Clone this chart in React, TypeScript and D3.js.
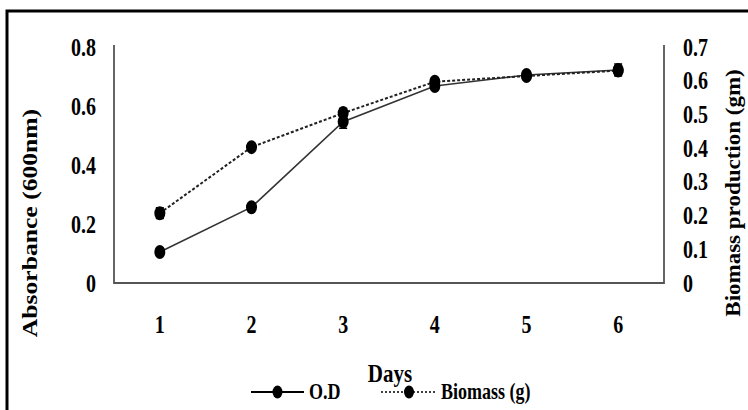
import React, { useEffect, useRef } from "react";
import * as d3 from "d3";

const days = ["1", "2", "3", "4", "5", "6"];
const odValues = [0.105, 0.257, 0.547, 0.668, 0.705, 0.722];
const odErrors = [0.006, 0.006, 0.022, 0.012, 0.008, 0.02];
const biomassValues = [0.207, 0.403, 0.504, 0.597, 0.614, 0.63];
const biomassErrors = [0.016, 0.008, 0.014, 0.012, 0.008, 0.01];
const leftTicks = [0, 0.2, 0.4, 0.6, 0.8];
const rightTicks = [0, 0.1, 0.2, 0.3, 0.4, 0.5, 0.6, 0.7];

const FONT = "'Liberation Serif', 'Times New Roman', serif";

const App = () => {
  const refToSvg = useRef(null);

  useEffect(() => {
    const width = 748;
    const height = 410;
    const svg = d3.select(refToSvg.current);
    svg.selectAll("*").remove();
    svg.attr("viewBox", [0, 0, width, height]);

    const left = 114, right = 664, top = 47, bottom = 283;

    const x = d3.scaleBand().domain(days).range([left, right]);
    const cx = (d) => x(d) + x.bandwidth() / 2;
    const yL = d3.scaleLinear().domain([0, 0.8]).range([bottom, top]);
    const yR = d3.scaleLinear().domain([0, 0.7]).range([bottom, top]);

    // outer frame (only top + left edges show in the crop)
    svg.append("rect")
      .attr("x", 7).attr("y", 11)
      .attr("width", 800).attr("height", 500)
      .attr("fill", "none").attr("stroke", "#000").attr("stroke-width", 3);

    const axisColor = "#555";
    const styleAxis = (g) => {
      g.select(".domain").remove();
      g.selectAll("text")
        .attr("font-family", FONT)
        .attr("font-weight", "bold")
        .attr("font-size", 20)
        .attr("fill", "#000")
        .attr("transform", "scale(1,1.25)");
    };

    svg.append("g")
      .attr("transform", `translate(${left},0)`)
      .call(d3.axisLeft(yL).tickValues(leftTicks).tickSize(0).tickPadding(18).tickFormat(d3.format("")))
      .call(styleAxis);

    svg.append("g")
      .attr("transform", `translate(${right},0)`)
      .call(d3.axisRight(yR).tickValues(rightTicks).tickSize(0).tickPadding(19).tickFormat(d3.format("")))
      .call(styleAxis);

    svg.append("g")
      .attr("transform", `translate(0,${bottom})`)
      .call(d3.axisBottom(x).tickSize(0).tickPadding(26))
      .call(styleAxis);

    // axis lines
    svg.append("path")
      .attr("d", `M${left},${top - 2}V${bottom}H${right}V${top - 2}`)
      .attr("fill", "none")
      .attr("stroke", axisColor)
      .attr("stroke-width", 1.8);

    const series = [
      { vals: odValues, errs: odErrors, y: yL, dash: null, width: 1.6, color: "#333" },
      { vals: biomassValues, errs: biomassErrors, y: yR, dash: "3,2", width: 2, color: "#222" },
    ];

    series.forEach((s) => {
      const line = d3.line().x((d, i) => cx(days[i])).y((d) => s.y(d));
      svg.append("path")
        .datum(s.vals)
        .attr("d", line)
        .attr("fill", "none")
        .attr("stroke", s.color)
        .attr("stroke-width", s.width)
        .attr("stroke-dasharray", s.dash);

      const eb = svg.append("g").attr("stroke", "#000").attr("stroke-width", 1.5);
      s.vals.forEach((v, i) => {
        const px = cx(days[i]);
        const y1 = s.y(v + s.errs[i]);
        const y2 = s.y(v - s.errs[i]);
        eb.append("path").attr("d", `M${px},${y1}V${y2}M${px - 4},${y1}H${px + 4}M${px - 4},${y2}H${px + 4}`);
      });

      svg.append("g")
        .selectAll("ellipse")
        .data(s.vals)
        .join("ellipse")
        .attr("cx", (d, i) => cx(days[i]))
        .attr("cy", (d) => s.y(d))
        .attr("rx", 5.5)
        .attr("ry", 7)
        .attr("fill", "#000");
    });

    // axis titles
    const title = (tx, ty, txt, k, fs) =>
      svg.append("text")
        .attr("transform", `translate(${tx},${ty}) scale(1,${k}) rotate(-90)`)
        .attr("text-anchor", "middle")
        .attr("dominant-baseline", "central")
        .attr("font-family", FONT)
        .attr("font-weight", "bold")
        .attr("font-size", fs)
        .text(txt);
    title(30, 223, "Absorbance (600nm)", 1.22, 21);
    title(734, 193, "Biomass production (gm)", 1.15, 20);

    svg.append("text")
      .attr("transform", "translate(390,382) scale(1,1.2)")
      .attr("text-anchor", "middle")
      .attr("font-family", FONT)
      .attr("font-weight", "bold")
      .attr("font-size", 21)
      .text("Days");

    // legend
    const legY = 392;
    const legend = [
      { label: "O.D", x1: 251, x2: 304, dash: null, tx: 309 },
      { label: "Biomass (g)", x1: 381, x2: 437, dash: "2,2", tx: 441 },
    ];
    legend.forEach((l) => {
      svg.append("line")
        .attr("x1", l.x1).attr("x2", l.x2)
        .attr("y1", legY).attr("y2", legY)
        .attr("stroke", "#000")
        .attr("stroke-width", l.dash ? 1.5 : 2)
        .attr("stroke-dasharray", l.dash);
      svg.append("ellipse")
        .attr("cx", (l.x1 + l.x2) / 2).attr("cy", legY)
        .attr("rx", 5).attr("ry", 6.5)
        .attr("fill", "#000");
      svg.append("text")
        .attr("transform", `translate(${l.tx},${legY + 7}) scale(1,1.25)`)
        .attr("font-family", FONT)
        .attr("font-weight", "bold")
        .attr("font-size", 18)
        .text(l.label);
    });
  }, []);

  return (
    <svg
      ref={refToSvg}
      width={748}
      height={410}
      style={{ position: "absolute", left: 0, top: 0, background: "#fff" }}
    />
  );
};

export default App;
